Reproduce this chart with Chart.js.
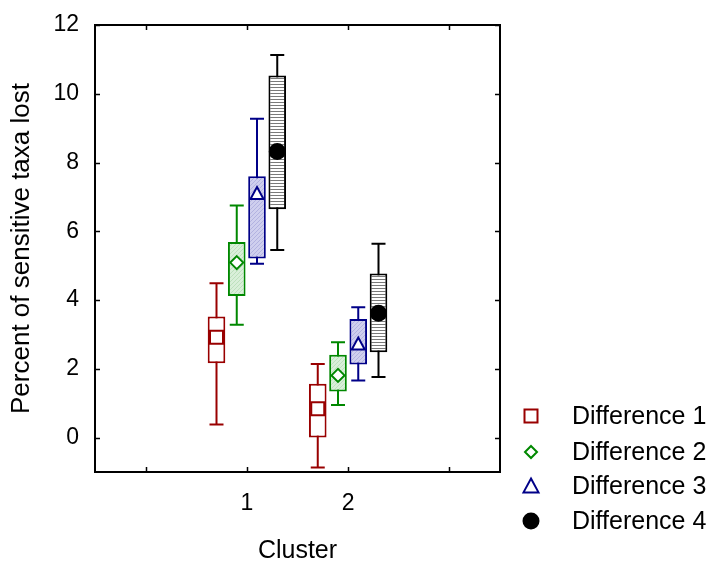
<!DOCTYPE html>
<html><head><meta charset="utf-8">
<script src="https://cdn.jsdelivr.net/npm/chart.js@4"></script>
<style>html,body{margin:0;padding:0;background:#fff}</style>
</head><body>
<canvas id="c" width="713" height="563"></canvas>
<script>
// ---- data ----
const clusterLabels = ['', '1', '2', ''];
const seriesNames = ['Difference 1', 'Difference 2', 'Difference 3', 'Difference 4'];
// each row: [min, q1, median, q3, max]; first row cluster 1, second row cluster 2
const diff1 = [[0.38, 2.16, 2.92, 3.52, 4.49], [-0.87, 0.00, 0.84, 1.57, 2.14]];
const diff2 = [[3.28, 4.12, 5.09, 5.69, 6.75], [0.95, 1.34, 1.81, 2.41, 2.77]];
const diff3 = [[5.06, 5.21, 7.10, 7.60, 9.27], [1.66, 2.13, 2.72, 3.45, 3.79]];
const diff4 = [[5.46, 6.64, 8.32, 10.53, 11.13], [1.76, 2.48, 3.62, 4.77, 5.64]];
const yTicks = [0, 2, 4, 6, 8, 10, 12];
const xTickIndex = [0, 1, 2, 3];

// ---- styles ----
const FONT = "'Liberation Sans', Arial, sans-serif";
const colors = ['#990000', '#008800', '#000088', '#000000'];
const markers = ['square', 'diamond', 'triangle', 'circle'];

function makePattern(bg, fg, kind) {
  const c = document.createElement('canvas');
  const n = kind === 'h' ? 3 : 4;
  c.width = n; c.height = n;
  const g = c.getContext('2d');
  g.fillStyle = bg; g.fillRect(0, 0, n, n);
  g.fillStyle = fg;
  if (kind === 'h') { g.fillRect(0, 0, n, 1); }
  else { for (let i = 0; i < n; i++) g.fillRect(i, n - 1 - i, 1, 1); }
  return g.createPattern(c, 'repeat');
}
const fills = [
  '#ffffff',
  makePattern('#d9efd9', '#bde0bd', 'd'),
  makePattern('#cfcfee', '#b2b2e0', 'd'),
  makePattern('#ffffff', '#7a7a7a', 'h')
];

const seriesStats = [diff1, diff2, diff3, diff4];
const datasets = seriesStats.map((s, i) => ({
  label: seriesNames[i],
  data: [null, [s[0][1], s[0][3]], [s[1][1], s[1][3]], null],
  stats: [null, s[0], s[1], null],
  backgroundColor: fills[i],
  borderColor: colors[i],
  borderWidth: 2,
  borderSkipped: false,
  categoryPercentage: 0.8,
  barPercentage: 0.87
}));

function drawMarker(ctx, type, x, y, color, legend) {
  ctx.save();
  ctx.lineWidth = 2;
  ctx.strokeStyle = color;
  ctx.fillStyle = '#ffffff';
  ctx.beginPath();
  if (type === 'square') {
    const h = 6.5;
    ctx.rect(x - h, y - h, 2 * h, 2 * h);
  } else if (type === 'diamond') {
    const h = legend ? 6 : 6.5;
    ctx.moveTo(x, y - h); ctx.lineTo(x + h, y); ctx.lineTo(x, y + h); ctx.lineTo(x - h, y); ctx.closePath();
  } else if (type === 'triangle') {
    const h = legend ? 7.5 : 6.5;
    ctx.moveTo(x, y - h); ctx.lineTo(x + h, y + h * 0.85); ctx.lineTo(x - h, y + h * 0.85); ctx.closePath();
  } else {
    ctx.fillStyle = color;
    ctx.arc(x, y, 7.5, 0, Math.PI * 2);
  }
  ctx.fill();
  ctx.stroke();
  ctx.restore();
}

const boxPlugin = {
  id: 'boxParts',
  beforeDatasetsDraw(chart) {
    const ctx = chart.ctx, ys = chart.scales.y;
    chart.data.datasets.forEach((ds, i) => {
      const meta = chart.getDatasetMeta(i);
      meta.data.forEach((el, j) => {
        const st = ds.stats[j];
        if (!st) return;
        const x = el.x;
        const y0 = ys.getPixelForValue(st[0]);
        const y4 = ys.getPixelForValue(st[4]);
        ctx.save();
        ctx.strokeStyle = colors[i];
        ctx.lineWidth = 2;
        ctx.beginPath();
        ctx.moveTo(x, y0); ctx.lineTo(x, y4);
        ctx.moveTo(x - 7, y0); ctx.lineTo(x + 7, y0);
        ctx.moveTo(x - 7, y4); ctx.lineTo(x + 7, y4);
        ctx.stroke();
        ctx.restore();
      });
    });
  },
  afterDatasetsDraw(chart) {
    const ctx = chart.ctx, ys = chart.scales.y;
    chart.data.datasets.forEach((ds, i) => {
      const meta = chart.getDatasetMeta(i);
      meta.data.forEach((el, j) => {
        const st = ds.stats[j];
        if (!st) return;
        drawMarker(ctx, markers[i], el.x, ys.getPixelForValue(st[2]), colors[i], false);
      });
    });
  },
  afterDraw(chart) {
    const ctx = chart.ctx, a = chart.chartArea;
    const xs = chart.scales.x, ys = chart.scales.y;
    ctx.save();
    ctx.strokeStyle = '#000';
    ctx.lineWidth = 2;
    ctx.strokeRect(a.left, a.top, a.right - a.left, a.bottom - a.top);
    ctx.beginPath();
    yTicks.forEach(v => {
      const p = Math.round(ys.getPixelForValue(v)) + 0.5;
      ctx.moveTo(a.left, p); ctx.lineTo(a.left + 5, p);
      ctx.moveTo(a.right, p); ctx.lineTo(a.right - 5, p);
    });
    xTickIndex.forEach(v => {
      const p = Math.round(xs.getPixelForValue(v)) + 0.5;
      ctx.moveTo(p, a.bottom); ctx.lineTo(p, a.bottom - 5);
      ctx.moveTo(p, a.top); ctx.lineTo(p, a.top + 5);
    });
    ctx.lineWidth = 1.5;
    ctx.stroke();
    // legend
    const rowY = [416, 452, 486, 521];
    seriesNames.forEach((name, i) => {
      drawMarker(ctx, markers[i], 531, rowY[i], colors[i], true);
      ctx.fillStyle = '#000';
      ctx.font = '25px ' + FONT;
      ctx.textAlign = 'left';
      ctx.textBaseline = 'middle';
      ctx.fillText(name, 572, rowY[i] + 1);
    });
    ctx.restore();
  }
};

Chart.defaults.font.family = FONT;
Chart.defaults.color = '#000';

new Chart(document.getElementById('c'), {
  type: 'bar',
  data: { labels: clusterLabels, datasets },
  plugins: [boxPlugin],
  options: {
    responsive: false,
    animation: false,
    devicePixelRatio: 1,
    layout: { padding: { left: 0, top: 25, right: 213, bottom: 0 } },
    plugins: { legend: { display: false }, tooltip: { enabled: false } },
    scales: {
      x: {
        type: 'category',
        offset: true,
        grid: { display: false, drawTicks: false },
        border: { display: false },
        ticks: { font: { size: 23 }, color: '#000', padding: 18, maxRotation: 0, autoSkip: false },
        title: { display: true, text: 'Cluster', font: { size: 25 }, color: '#000', padding: { top: 0, bottom: -3 } },
        afterFit: s => { s.height = 91; s.paddingLeft = 0; s.paddingRight = 0; }
      },
      y: {
        min: -1, max: 12,
        afterBuildTicks: s => { s.ticks = yTicks.map(v => ({ value: v })); },
        grid: { display: false, drawTicks: false },
        border: { display: false },
        ticks: { font: { size: 23 }, color: '#000', padding: 16 },
        title: { display: true, text: 'Percent of sensitive taxa lost', font: { size: 26 }, color: '#000', padding: { top: 6, bottom: 0 } },
        afterFit: s => { s.width = 95; s.paddingTop = 0; s.paddingBottom = 0; }
      }
    }
  }
});
</script>
</body></html>
